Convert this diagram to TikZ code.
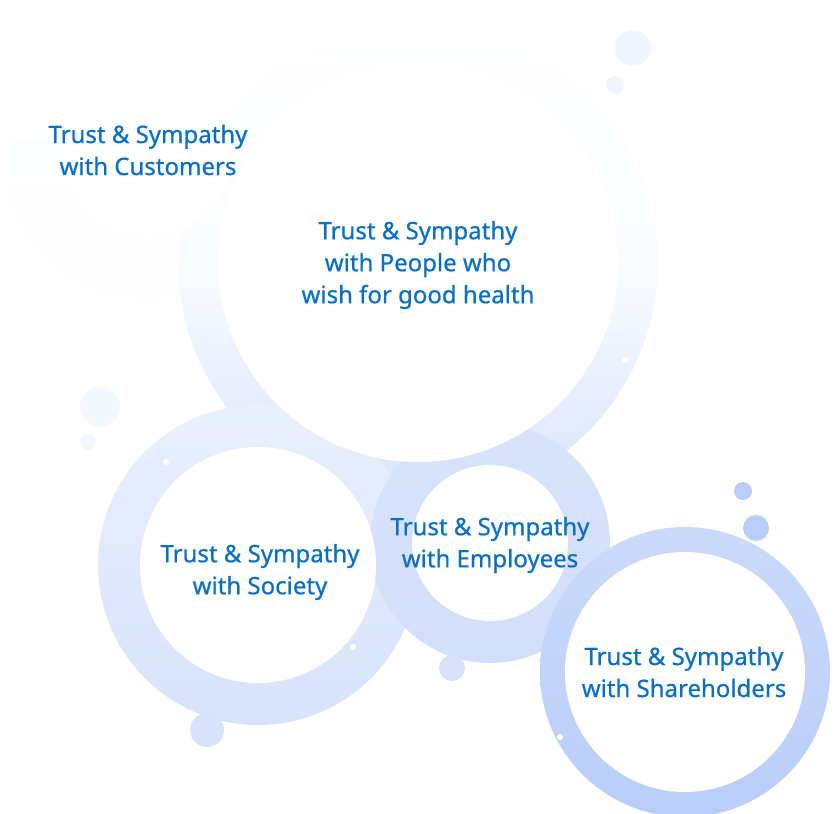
\documentclass[tikz,border=0pt]{standalone}
\usepackage{fontspec}
\setmainfont{Noto Sans}[FakeBold=0.6]
\usetikzlibrary{backgrounds}

\definecolor{txtblue}{HTML}{0A6FC2}
\definecolor{ringtop}{HTML}{FAFCFF}
\definecolor{ringbot}{HTML}{D8E3FB}
\definecolor{ringdark}{HTML}{B9CDF9}
\tikzset{
  label/.style={text=txtblue, font=\bfseries\fontsize{24}{32}\selectfont, align=center},
  hole/.style={fill=white},
  bubble/.style={fill=ringbot},
}

\begin{document}
\begin{tikzpicture}[x=1pt, y=-1pt]
        \useasboundingbox (0,0) rectangle (836,814);
        % outer discs
        \shade[top color=white, bottom color=white!97!ringbot] (148,155) circle (145);
        \shade[top color=white, bottom color=ringbot, middle color=ringtop] (418,262) circle (240);
        \shade[top color=ringtop!50!ringbot, bottom color=ringbot] (258,565) circle (160);
        \shade[top color=ringbot, bottom color=ringbot!80!ringdark] (490,543) circle (120);
        % bubbles
        \fill[ringtop!75!ringbot] (633,48) circle (18);
        \fill[ringtop!75!ringbot] (615,85) circle (9);
        \fill[ringtop!80!ringbot] (100,407) circle (20);
        \fill[ringtop!80!ringbot] (88,442) circle (8);
        \fill[bubble] (207,730) circle (17);
        \fill[bubble] (452,668) circle (13);
        \fill[ringdark] (743,491) circle (9);
        \fill[ringdark] (756,528) circle (13);
        % holes
        \fill[white] (148,155) circle (82);
        \fill[hole] (418,262) circle (200);
        \fill[hole] (258,565) circle (118);
        \fill[hole] (490,543) circle (78);
        % shareholders ring
        \shade[top color=ringbot!60!ringdark, bottom color=ringdark] (685,672) circle (145);
        \fill[hole] (685,672) circle (120);
        % white dots
        \foreach \p/\r in {{166,462}/3, {625,360}/3, {353,647}/3, {385,668}/2, {718,523}/2, {560,737}/3}
            \fill[white] (\p) circle (\r);

        \node[label] (customers) at (148,150) {Trust \& Sympathy\\with Customers};
        \node[label] (people) at (418,265) {Trust \& Sympathy\\with People who\\wish for good health};
        \node[label] (society) at (260,572) {Trust \& Sympathy\\with Society};
        \node[label] (employees) at (490,545) {Trust \& Sympathy\\with Employees};
        \node[label] (shareholders) at (684,672) {Trust \& Sympathy\\with Shareholders};
    \end{tikzpicture}
\end{document}
